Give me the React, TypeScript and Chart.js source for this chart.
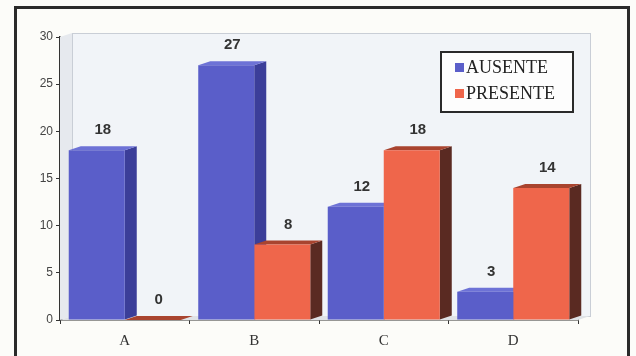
import React, { useEffect, useRef } from "react";
import { Chart, registerables } from "chart.js";

Chart.register(...registerables);

const categories = ["A", "B", "C", "D"];
const ausente = [18, 27, 12, 3];
const presente = [0, 8, 18, 14];
const seriesNames = ["AUSENTE", "PRESENTE"];
const yTicks = [0, 5, 10, 15, 20, 25, 30];

const FRONT = ["#5a5ec9", "#ef664b"];
const SIDE = ["#3b3e99", "#5a2a22"];
const TOP = ["#6d72d6", "#a9442f"];
const DX = 12;
const DY = 4;

const threeD = {
  id: "threeD",
  beforeDraw(chart: any) {
    const ctx = chart.ctx;
    ctx.save();
    ctx.fillStyle = "#fcfcf9";
    ctx.fillRect(0, 0, chart.width, chart.height);
    ctx.strokeStyle = "#2a2a2a";
    ctx.lineWidth = 3;
    ctx.strokeRect(15.5, 7.5, 613, 360);
    ctx.restore();
  },
  beforeDatasetsDraw(chart: any) {
    const ctx = chart.ctx;
    const a = chart.chartArea;
    ctx.save();
    ctx.fillStyle = "#e6e9ee";
    ctx.beginPath();
    ctx.moveTo(a.left, a.top);
    ctx.lineTo(a.left + DX, a.top - DY);
    ctx.lineTo(a.left + DX, a.bottom - DY);
    ctx.lineTo(a.left, a.bottom);
    ctx.closePath();
    ctx.fill();
    ctx.fillStyle = "#f1f4f8";
    ctx.fillRect(a.left + DX, a.top - DY, a.right - a.left, a.bottom - a.top);
    ctx.strokeStyle = "#c9ced6";
    ctx.lineWidth = 1;
    ctx.strokeRect(a.left + DX + 0.5, a.top - DY + 0.5, a.right - a.left, a.bottom - a.top);
    ctx.fillStyle = "#dfe2e6";
    ctx.beginPath();
    ctx.moveTo(a.left, a.bottom);
    ctx.lineTo(a.right, a.bottom);
    ctx.lineTo(a.right + DX, a.bottom - DY);
    ctx.lineTo(a.left + DX, a.bottom - DY);
    ctx.closePath();
    ctx.fill();
    const n = chart.data.labels.length;
    for (let i = 0; i < n; i++) {
      chart.data.datasets.forEach((_: any, d: number) => {
        const el = chart.getDatasetMeta(d).data[i];
        if (!el) return;
        const { x, y, base, width } = el.getProps(["x", "y", "base", "width"], true);
        const l = x - width / 2;
        const r = x + width / 2;
        ctx.fillStyle = SIDE[d];
        ctx.beginPath();
        ctx.moveTo(r, y);
        ctx.lineTo(r + DX, y - DY);
        ctx.lineTo(r + DX, base - DY);
        ctx.lineTo(r, base);
        ctx.closePath();
        ctx.fill();
        ctx.fillStyle = TOP[d];
        ctx.beginPath();
        ctx.moveTo(l, y);
        ctx.lineTo(r, y);
        ctx.lineTo(r + DX, y - DY);
        ctx.lineTo(l + DX, y - DY);
        ctx.closePath();
        ctx.fill();
      });
    }
    ctx.restore();
  },
  afterDatasetsDraw(chart: any) {
    const ctx = chart.ctx;
    ctx.save();
    ctx.font = "bold 15px 'Liberation Sans', Arial, sans-serif";
    ctx.fillStyle = "#333";
    ctx.textAlign = "center";
    ctx.textBaseline = "middle";
    chart.data.datasets.forEach((ds: any, d: number) => {
      chart.getDatasetMeta(d).data.forEach((el: any, i: number) => {
        const { x, y } = el.getProps(["x", "y"], true);
        ctx.fillText(String(ds.data[i]), x + DX / 2, y - 20);
      });
    });
    const bx = 441, by = 52, bw = 132, bh = 60;
    ctx.fillStyle = "#fdfdfd";
    ctx.fillRect(bx, by, bw, bh);
    ctx.strokeStyle = "#2a2a2a";
    ctx.lineWidth = 2;
    ctx.strokeRect(bx, by, bw, bh);
    ctx.font = "18px 'Liberation Serif', 'Times New Roman', serif";
    ctx.textAlign = "left";
    chart.data.datasets.forEach((ds: any, d: number) => {
      const cy = by + 15 + d * 26;
      ctx.fillStyle = FRONT[d];
      ctx.fillRect(bx + 14, cy - 4, 9, 9);
      ctx.fillStyle = "#222";
      ctx.fillText(ds.label, bx + 25, cy + 1);
    });
    ctx.restore();
  },
};

export default function App() {
  const ref = useRef<HTMLCanvasElement>(null);
  useEffect(() => {
    if (!ref.current) return;
    const chart = new Chart(ref.current, {
      type: "bar",
      data: {
        labels: categories,
        datasets: [
          { label: seriesNames[0], data: ausente, backgroundColor: FRONT[0] },
          { label: seriesNames[1], data: presente, backgroundColor: FRONT[1] },
        ],
      },
      options: {
        animation: false,
        responsive: false,
        layout: { padding: { left: 14, top: 37, right: 58, bottom: 6 } },
        datasets: { bar: { categoryPercentage: 0.865, barPercentage: 1 } },
        plugins: { legend: { display: false }, tooltip: { enabled: false } },
        scales: {
          x: {
            afterFit: (s: any) => { s.height = 30; },
            grid: { drawOnChartArea: false, tickLength: 4, color: "#333", offset: true },
            border: { color: "#333", width: 1.5 },
            ticks: {
              padding: 8,
              color: "#333",
              font: { family: "'Liberation Serif', 'Times New Roman', serif", size: 15 },
            },
          },
          y: {
            min: 0,
            max: 30,
            afterFit: (s: any) => { s.width = 46; },
            afterBuildTicks: (s: any) => { s.ticks = yTicks.map((v) => ({ value: v })); },
            grid: { drawOnChartArea: false, tickLength: 4, color: "#333" },
            border: { color: "#333", width: 1.5 },
            ticks: {
              padding: 3,
              color: "#444",
              font: { family: "'Liberation Sans', Arial, sans-serif", size: 12 },
            },
          },
        },
      },
      plugins: [threeD],
    });
    return () => chart.destroy();
  }, []);
  return (
    <div style={{ position: "fixed", left: 0, top: 0, width: 636, height: 356 }}>
      <canvas ref={ref} width={636} height={356} />
    </div>
  );
}
